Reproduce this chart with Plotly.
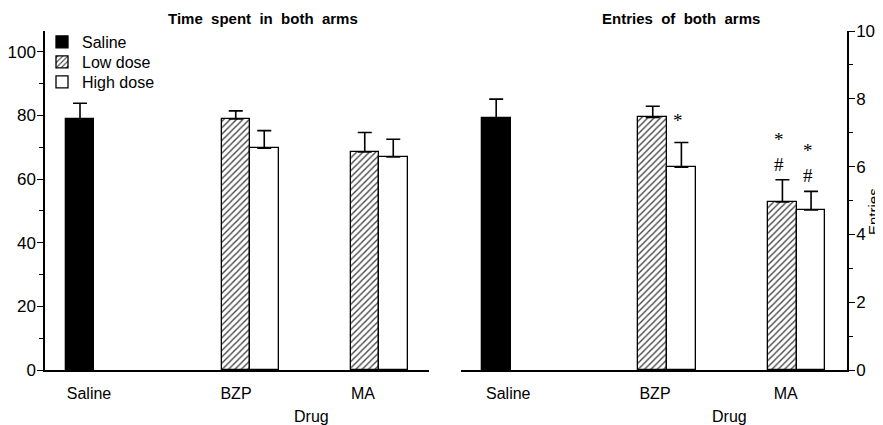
import plotly.graph_objects as go

# ---- data ----
groups = ["Saline", "BZP", "MA"]
series = ["Saline", "Low dose", "High dose"]

time_saline = [78.9]
time_saline_err = [4.9]
time_low = [78.9, 68.5]
time_low_err = [2.5, 6.1]
time_high = [69.7, 66.9]
time_high_err = [5.5, 5.6]

entries_saline = [7.42]
entries_saline_err = [0.57]
entries_low = [7.45, 4.96]
entries_low_err = [0.33, 0.65]
entries_high = [5.98, 4.72]
entries_high_err = [0.73, 0.55]

# significance marks: (group, series, text)
entries_marks = [("BZP", "High dose", "*"), ("MA", "Low dose", "*<br>#"), ("MA", "High dose", "*<br>#")]

# ---- layout helpers (axis units) ----
group_center = {"Saline": 35, "BZP": 205, "MA": 334}
label_pos_left = [44, 191, 318]
label_pos_right = [47, 193, 323]
bar_w = 28.5
offset = {"Saline": 0, "Low dose": -bar_w / 2, "High dose": bar_w / 2}

FONT = "Liberation Sans, Arial, sans-serif"
W, H = 883, 425
OX, OY = 8, 8  # page body margin


def px(x):
    return (x - OX) / W


def py(y):
    return 1 - (y - OY) / H


fig = go.Figure()


def add_bars(xa, ya, vals_s, err_s, vals_l, err_l, vals_h, err_h, show):
    common = dict(width=bar_w, xaxis=xa, yaxis=ya,
                  marker_line=dict(color="black", width=1.3))
    err = lambda e: dict(type="data", array=e, arrayminus=[0] * len(e), symmetric=False,
                         color="black", thickness=1.6, width=7)
    fig.add_bar(x=[group_center["Saline"] + offset["Saline"]], y=vals_s, error_y=err(err_s),
                marker_color="black", name="Saline", legend="legend", showlegend=show, **common)
    fig.add_bar(x=[group_center[g] + offset["Low dose"] for g in groups[1:]], y=vals_l,
                error_y=err(err_l),
                marker=dict(color="white", pattern=dict(shape="/", fgcolor="#444444", bgcolor="white",
                                                        size=4.5, solidity=0.3, fillmode="replace")),
                name="Low dose", legend="legend2", showlegend=show, **common)
    fig.add_bar(x=[group_center[g] + offset["High dose"] for g in groups[1:]], y=vals_h,
                error_y=err(err_h), marker_color="white",
                name="High dose", legend="legend3", showlegend=show, **common)


add_bars("x", "y", time_saline, time_saline_err, time_low, time_low_err, time_high, time_high_err, True)
add_bars("x2", "y2", entries_saline, entries_saline_err, entries_low, entries_low_err,
         entries_high, entries_high_err, False)

# annotations for significance
ent_lookup = {("BZP", "Low dose"): (entries_low[0], entries_low_err[0]),
              ("MA", "Low dose"): (entries_low[1], entries_low_err[1]),
              ("BZP", "High dose"): (entries_high[0], entries_high_err[0]),
              ("MA", "High dose"): (entries_high[1], entries_high_err[1])}
annots = []
for g, s, t in entries_marks:
    v, e = ent_lookup[(g, s)]
    annots.append(dict(x=group_center[g] + offset[s], y=v + e, xref="x2", yref="y2", text=t,
                       showarrow=False, xanchor="center", yanchor="bottom",
                       yshift=3 if "#" in t else 10, xshift=-3,
                       font=dict(family="Liberation Serif, serif", size=19, color="black")))

txt = dict(showarrow=False, xref="paper", yref="paper", xanchor="center", yanchor="middle")
annots += [
    dict(x=px(263), y=py(19), text="<b>Time&nbsp; spent&nbsp; in&nbsp; both&nbsp; arms</b>",
         font=dict(family=FONT, size=15, color="black"), **txt),
    dict(x=px(681), y=py(19), text="<b>Entries&nbsp; of&nbsp; both&nbsp; arms</b>",
         font=dict(family=FONT, size=15, color="black"), **txt),
    dict(x=px(311), y=py(416), text="Drug", font=dict(family=FONT, size=16, color="black"), **txt),
    dict(x=px(729), y=py(416), text="Drug", font=dict(family=FONT, size=16, color="black"), **txt),
    dict(x=px(873), y=py(212), text="Entries", textangle=-90,
         font=dict(family=FONT, size=15, color="black"), **txt),
]

ydom = [py(370), py(31)]
xaxis_common = dict(showgrid=False, zeroline=False, showline=True, linecolor="black", linewidth=1.5,
                    ticks="outside", ticklen=8, tickcolor="rgba(0,0,0,0)", range=[0, 384],
                    automargin=False,
                    tickfont=dict(family=FONT, size=16, color="black"))
yaxis_common = dict(showgrid=False, zeroline=False, showline=True, linecolor="black", linewidth=1.5,
                    ticks="outside", ticklen=6, tickwidth=1.3, tickcolor="black", domain=ydom,
                    automargin=False, ticklabelstandoff=-2,
                    tickfont=dict(family=FONT, size=17, color="black"))

legend_rows = [42, 62, 82]
leg_common = dict(x=px(42), xanchor="left", yanchor="middle", bgcolor="rgba(0,0,0,0)",
                  font=dict(family=FONT, size=16, color="black"), itemwidth=30,
                  borderwidth=0)

fig.update_layout(
    width=W, height=H,
    margin=dict(l=0, r=0, t=0, b=0, pad=0),
    paper_bgcolor="white", plot_bgcolor="white",
    barmode="overlay", bargap=0,
    font=dict(family=FONT, color="black"),
    xaxis=dict(domain=[px(45), px(429)], anchor="y", tickvals=label_pos_left, ticktext=groups,
               **xaxis_common),
    xaxis2=dict(domain=[px(461), px(847)], anchor="y2", tickvals=label_pos_right, ticktext=groups,
                **xaxis_common),
    yaxis=dict(anchor="x", range=[0, 106.5], tickvals=[0, 20, 40, 60, 80, 100],
               minor=dict(tickvals=[10, 30, 50, 70, 90], ticks="outside", ticklen=4,
                          tickcolor="black", tickwidth=1.2),
               **yaxis_common),
    yaxis2=dict(anchor="x2", side="right", range=[0, 10], tickvals=[0, 2, 4, 6, 8, 10],
                minor=dict(tickvals=[1, 3, 5, 7, 9], ticks="outside", ticklen=4,
                           tickcolor="black", tickwidth=1.2),
                **yaxis_common),
    legend=dict(y=py(legend_rows[0]), **leg_common),
    legend2=dict(y=py(legend_rows[1]), **leg_common),
    legend3=dict(y=py(legend_rows[2]), **leg_common),
    annotations=annots,
)

fig.write_html("out.html")
